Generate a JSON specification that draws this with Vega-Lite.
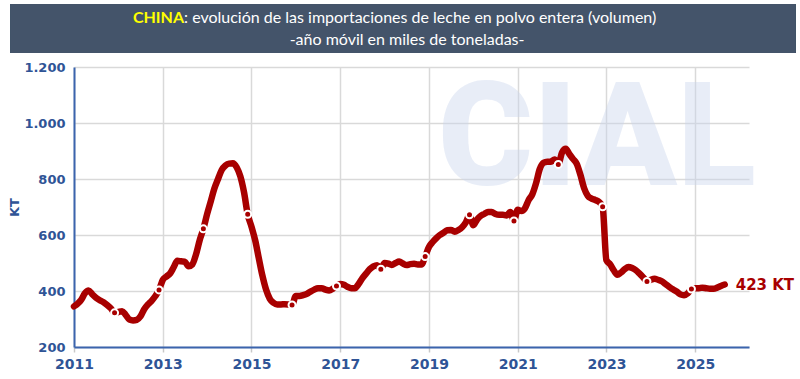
{
  "$schema": "https://vega.github.io/schema/vega-lite/v6.json",
  "background": "white",
  "padding": {"left": 8, "top": 4, "right": 8, "bottom": 4},
  "config": {"view": {"stroke": null}},
  "width": 675,
  "height": 280,
  "data": {"values": [
    {"date": "2011-01-01", "kt": 345}, {"date": "2011-02-01", "kt": 355}, {"date": "2011-03-01", "kt": 368}, {"date": "2011-04-01", "kt": 392}, {"date": "2011-05-01", "kt": 402}, {"date": "2011-06-01", "kt": 388}, {"date": "2011-07-01", "kt": 376}, {"date": "2011-08-01", "kt": 367}, {"date": "2011-09-01", "kt": 360}, {"date": "2011-10-01", "kt": 350}, {"date": "2011-11-01", "kt": 338}, {"date": "2011-12-01", "kt": 322},
    {"date": "2012-01-01", "kt": 325}, {"date": "2012-02-01", "kt": 328}, {"date": "2012-03-01", "kt": 315}, {"date": "2012-04-01", "kt": 298}, {"date": "2012-05-01", "kt": 295}, {"date": "2012-06-01", "kt": 297}, {"date": "2012-07-01", "kt": 309}, {"date": "2012-08-01", "kt": 335}, {"date": "2012-09-01", "kt": 352}, {"date": "2012-10-01", "kt": 365}, {"date": "2012-11-01", "kt": 382}, {"date": "2012-12-01", "kt": 404},
    {"date": "2013-01-01", "kt": 440}, {"date": "2013-02-01", "kt": 452}, {"date": "2013-03-01", "kt": 462}, {"date": "2013-04-01", "kt": 485}, {"date": "2013-05-01", "kt": 508}, {"date": "2013-06-01", "kt": 506}, {"date": "2013-07-01", "kt": 505}, {"date": "2013-08-01", "kt": 488}, {"date": "2013-09-01", "kt": 495}, {"date": "2013-10-01", "kt": 530}, {"date": "2013-11-01", "kt": 582}, {"date": "2013-12-01", "kt": 622},
    {"date": "2014-01-01", "kt": 675}, {"date": "2014-02-01", "kt": 722}, {"date": "2014-03-01", "kt": 765}, {"date": "2014-04-01", "kt": 800}, {"date": "2014-05-01", "kt": 832}, {"date": "2014-06-01", "kt": 848}, {"date": "2014-07-01", "kt": 855}, {"date": "2014-08-01", "kt": 856}, {"date": "2014-09-01", "kt": 842}, {"date": "2014-10-01", "kt": 810}, {"date": "2014-11-01", "kt": 752}, {"date": "2014-12-01", "kt": 674},
    {"date": "2015-01-01", "kt": 630}, {"date": "2015-02-01", "kt": 580}, {"date": "2015-03-01", "kt": 520}, {"date": "2015-04-01", "kt": 455}, {"date": "2015-05-01", "kt": 405}, {"date": "2015-06-01", "kt": 372}, {"date": "2015-07-01", "kt": 358}, {"date": "2015-08-01", "kt": 352}, {"date": "2015-09-01", "kt": 352}, {"date": "2015-10-01", "kt": 353}, {"date": "2015-11-01", "kt": 352}, {"date": "2015-12-01", "kt": 350},
    {"date": "2016-01-01", "kt": 382}, {"date": "2016-02-01", "kt": 382}, {"date": "2016-03-01", "kt": 385}, {"date": "2016-04-01", "kt": 390}, {"date": "2016-05-01", "kt": 398}, {"date": "2016-06-01", "kt": 405}, {"date": "2016-07-01", "kt": 410}, {"date": "2016-08-01", "kt": 410}, {"date": "2016-09-01", "kt": 405}, {"date": "2016-10-01", "kt": 402}, {"date": "2016-11-01", "kt": 408}, {"date": "2016-12-01", "kt": 418},
    {"date": "2017-01-01", "kt": 425}, {"date": "2017-02-01", "kt": 422}, {"date": "2017-03-01", "kt": 415}, {"date": "2017-04-01", "kt": 410}, {"date": "2017-05-01", "kt": 410}, {"date": "2017-06-01", "kt": 425}, {"date": "2017-07-01", "kt": 445}, {"date": "2017-08-01", "kt": 462}, {"date": "2017-09-01", "kt": 478}, {"date": "2017-10-01", "kt": 488}, {"date": "2017-11-01", "kt": 492}, {"date": "2017-12-01", "kt": 478},
    {"date": "2018-01-01", "kt": 500}, {"date": "2018-02-01", "kt": 498}, {"date": "2018-03-01", "kt": 493}, {"date": "2018-04-01", "kt": 500}, {"date": "2018-05-01", "kt": 505}, {"date": "2018-06-01", "kt": 498}, {"date": "2018-07-01", "kt": 493}, {"date": "2018-08-01", "kt": 496}, {"date": "2018-09-01", "kt": 497}, {"date": "2018-10-01", "kt": 495}, {"date": "2018-11-01", "kt": 495}, {"date": "2018-12-01", "kt": 523},
    {"date": "2019-01-01", "kt": 557}, {"date": "2019-02-01", "kt": 575}, {"date": "2019-03-01", "kt": 588}, {"date": "2019-04-01", "kt": 600}, {"date": "2019-05-01", "kt": 608}, {"date": "2019-06-01", "kt": 617}, {"date": "2019-07-01", "kt": 618}, {"date": "2019-08-01", "kt": 612}, {"date": "2019-09-01", "kt": 618}, {"date": "2019-10-01", "kt": 628}, {"date": "2019-11-01", "kt": 645}, {"date": "2019-12-01", "kt": 672},
    {"date": "2020-01-01", "kt": 635}, {"date": "2020-02-01", "kt": 655}, {"date": "2020-03-01", "kt": 668}, {"date": "2020-04-01", "kt": 675}, {"date": "2020-05-01", "kt": 682}, {"date": "2020-06-01", "kt": 682}, {"date": "2020-07-01", "kt": 675}, {"date": "2020-08-01", "kt": 672}, {"date": "2020-09-01", "kt": 672}, {"date": "2020-10-01", "kt": 670}, {"date": "2020-11-01", "kt": 682}, {"date": "2020-12-01", "kt": 650},
    {"date": "2021-01-01", "kt": 690}, {"date": "2021-02-01", "kt": 686}, {"date": "2021-03-01", "kt": 695}, {"date": "2021-04-01", "kt": 725}, {"date": "2021-05-01", "kt": 745}, {"date": "2021-06-01", "kt": 785}, {"date": "2021-07-01", "kt": 835}, {"date": "2021-08-01", "kt": 858}, {"date": "2021-09-01", "kt": 862}, {"date": "2021-10-01", "kt": 862}, {"date": "2021-11-01", "kt": 870}, {"date": "2021-12-01", "kt": 852},
    {"date": "2022-01-01", "kt": 895}, {"date": "2022-02-01", "kt": 908}, {"date": "2022-03-01", "kt": 890}, {"date": "2022-04-01", "kt": 872}, {"date": "2022-05-01", "kt": 855}, {"date": "2022-06-01", "kt": 815}, {"date": "2022-07-01", "kt": 768}, {"date": "2022-08-01", "kt": 740}, {"date": "2022-09-01", "kt": 730}, {"date": "2022-10-01", "kt": 725}, {"date": "2022-11-01", "kt": 718}, {"date": "2022-12-01", "kt": 701},
    {"date": "2023-01-01", "kt": 510}, {"date": "2023-02-01", "kt": 495}, {"date": "2023-03-01", "kt": 475}, {"date": "2023-04-01", "kt": 458}, {"date": "2023-05-01", "kt": 466}, {"date": "2023-06-01", "kt": 478}, {"date": "2023-07-01", "kt": 486}, {"date": "2023-08-01", "kt": 482}, {"date": "2023-09-01", "kt": 474}, {"date": "2023-10-01", "kt": 462}, {"date": "2023-11-01", "kt": 448}, {"date": "2023-12-01", "kt": 434},
    {"date": "2024-01-01", "kt": 440}, {"date": "2024-02-01", "kt": 444}, {"date": "2024-03-01", "kt": 440}, {"date": "2024-04-01", "kt": 435}, {"date": "2024-05-01", "kt": 425}, {"date": "2024-06-01", "kt": 415}, {"date": "2024-07-01", "kt": 406}, {"date": "2024-08-01", "kt": 398}, {"date": "2024-09-01", "kt": 388}, {"date": "2024-10-01", "kt": 385}, {"date": "2024-11-01", "kt": 392}, {"date": "2024-12-01", "kt": 407},
    {"date": "2025-01-01", "kt": 410}, {"date": "2025-02-01", "kt": 410}, {"date": "2025-03-01", "kt": 412}, {"date": "2025-04-01", "kt": 410}, {"date": "2025-05-01", "kt": 408}, {"date": "2025-06-01", "kt": 408}, {"date": "2025-07-01", "kt": 412}, {"date": "2025-08-01", "kt": 418}, {"date": "2025-09-01", "kt": 423}
  ]},
  "layer": [
    {
      "mark": {"type": "rect", "fill": "#44546A"},
      "encoding": {
        "x": {"datum": {"year": 2009, "month": 7, "date": 29}, "type": "temporal"},
        "x2": {"datum": {"year": 2027, "month": 4, "date": 4}},
        "y": {"datum": 1252, "type": "quantitative"},
        "y2": {"datum": 1424}
      }
    },
    {
      "data": {"values": [{"part": "CHINA"}]},
      "mark": {"type": "text", "align": "right", "baseline": "middle", "font": "Lato", "fontSize": 16, "fontWeight": "bold", "color": "#FFFF00"},
      "encoding": {
        "x": {"datum": {"year": 2013, "month": 6, "date": 25}, "type": "temporal"},
        "y": {"datum": 1374, "type": "quantitative"},
        "text": {"field": "part"}
      }
    },
    {
      "data": {"values": [{"part": ": evolución de las importaciones de leche en polvo entera (volumen)"}]},
      "mark": {"type": "text", "align": "left", "baseline": "middle", "font": "Lato", "fontSize": 16, "color": "#FFFFFF"},
      "encoding": {
        "x": {"datum": {"year": 2013, "month": 6, "date": 25}, "type": "temporal"},
        "y": {"datum": 1374, "type": "quantitative"},
        "text": {"field": "part"}
      }
    },
    {
      "data": {"values": [{"part": "-año móvil en miles de toneladas-"}]},
      "mark": {"type": "text", "align": "center", "baseline": "middle", "font": "Lato", "fontSize": 16, "color": "#FFFFFF"},
      "encoding": {
        "x": {"datum": {"year": 2018, "month": 7, "date": 5}, "type": "temporal"},
        "y": {"datum": 1295, "type": "quantitative"},
        "text": {"field": "part"}
      }
    },
    {
      "data": {"values": [{"part": "CIAL"}]},
      "mark": {"type": "text", "font": "Roboto", "fontWeight": 900, "fontSize": 145, "fill": "rgba(200,212,237,0.42)", "align": "center", "baseline": "alphabetic"},
      "encoding": {
        "x": {"datum": {"year": 2022, "month": 10, "date": 15}, "type": "temporal"},
        "y": {"datum": 778, "type": "quantitative"},
        "text": {"field": "part"}
      }
    },
    {
      "mark": {"type": "line", "color": "#A80000", "strokeWidth": 6.5, "interpolate": "monotone", "strokeCap": "round", "strokeJoin": "round"},
      "encoding": {
        "x": {
          "field": "date", "type": "temporal",
          "scale": {"domain": [{"year": 2011, "month": 1, "date": 1}, {"year": 2026, "month": 3, "date": 20}]},
          "axis": {
            "title": null,
            "values": [{"year": 2011, "month": 1, "date": 1}, {"year": 2013, "month": 1, "date": 1}, {"year": 2015, "month": 1, "date": 1}, {"year": 2017, "month": 1, "date": 1}, {"year": 2019, "month": 1, "date": 1}, {"year": 2021, "month": 1, "date": 1}, {"year": 2023, "month": 1, "date": 1}, {"year": 2025, "month": 1, "date": 1}],
            "format": "%Y",
            "labelFlush": false,
            "labelOverlap": false,
            "labelFont": "DejaVu Sans", "labelFontWeight": "bold", "labelFontSize": 14, "labelColor": "#2F5496",
            "labelPadding": 5,
            "domainColor": "#3B64AD", "domainWidth": 2,
            "tickColor": "#C8C8C8", "tickSize": 5, "tickWidth": 1.5,
            "grid": true, "gridColor": "#D9D9D9", "gridWidth": 1.5
          }
        },
        "y": {
          "field": "kt", "type": "quantitative",
          "scale": {"domain": [200, 1200], "nice": false, "zero": false},
          "axis": {
            "title": "KT",
            "titleFont": "DejaVu Sans", "titleFontWeight": "bold", "titleFontSize": 13, "titleColor": "#2F5496", "titlePadding": 2,
            "values": [200, 400, 600, 800, 1000, 1200],
            "labelExpr": "replace(format(datum.value, ','), ',', '.')",
            "labelFont": "DejaVu Sans", "labelFontWeight": "bold", "labelFontSize": 13, "labelColor": "#2F5496",
            "ticks": false, "labelPadding": 9,
            "domainColor": "#3B64AD", "domainWidth": 2,
            "grid": true, "gridColor": "#D9D9D9", "gridWidth": 1.5
          }
        }
      }
    },
    {
      "transform": [{"filter": {"field": "date", "timeUnit": "month", "equal": {"month": 12}}}],
      "mark": {"type": "point", "filled": true, "fill": "#A80000", "stroke": "#FFFFFF", "strokeWidth": 2, "size": 49, "opacity": 1},
      "encoding": {
        "x": {"field": "date", "type": "temporal"},
        "y": {"field": "kt", "type": "quantitative"}
      }
    },
    {
      "data": {"values": [{"date": "2025-09-01", "kt": 423, "label": "423 KT"}]},
      "mark": {"type": "text", "align": "left", "baseline": "middle", "dx": 11, "font": "DejaVu Sans", "fontWeight": "bold", "fontSize": 15, "color": "#A80000"},
      "encoding": {
        "x": {"field": "date", "type": "temporal"},
        "y": {"field": "kt", "type": "quantitative"},
        "text": {"field": "label"}
      }
    }
  ]
}
